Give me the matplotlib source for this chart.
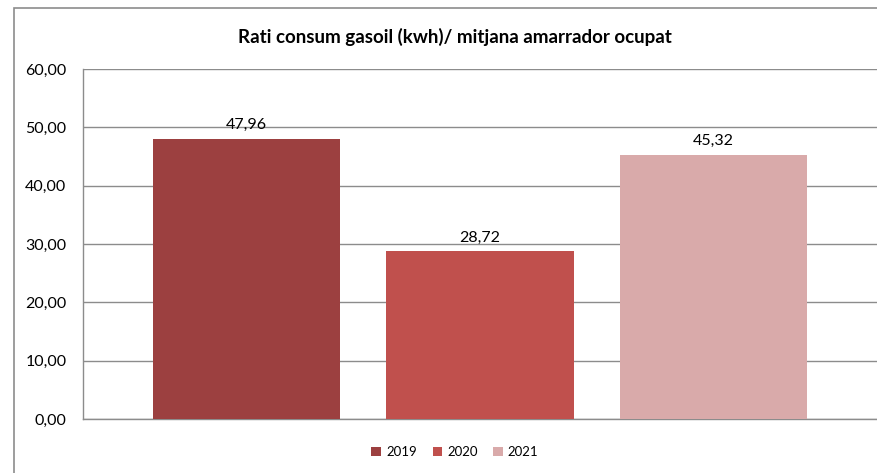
import matplotlib.pyplot as plt
from matplotlib.patches import Rectangle

years = ['2019', '2020', '2021']
values = [47.96, 28.72, 45.32]
colors = ['#9C4040', '#C0504D', '#D9AAAA']
yticks = [0, 10, 20, 30, 40, 50, 60]

plt.rcParams['font.family'] = ['Lato', 'DejaVu Sans']

fig = plt.figure(figsize=(8.77, 4.73), dpi=100)
# chart frame (right and bottom are cut off in the original)
fig.add_artist(Rectangle((14 / 877, -0.1), 1.0, 1 - 8 / 473 + 0.1,
                         transform=fig.transFigure, fill=False,
                         edgecolor='#8C8C8C', linewidth=1.2))

ax = fig.add_axes([83 / 877, 1 - 419 / 473, 1 - 83 / 877, (419 - 69) / 473])
x = range(len(years))
bars = ax.bar(x, values, width=188 / 234, color=colors, label=years, zorder=3)
for b, v in zip(bars, values):
    ax.text(b.get_x() + b.get_width() / 2, v + 1.2, f'{v:.2f}'.replace('.', ','),
            ha='center', va='bottom', fontsize=11.5)

ax.set_xlim(-0.7, 2.7)
ax.set_ylim(0, 60)
ax.set_yticks(yticks)
ax.set_yticklabels([f'{t:.2f}'.replace('.', ',') for t in yticks], fontsize=11.5)
ax.set_xticks([])
ax.tick_params(axis='y', length=0, pad=12)
ax.grid(axis='y', color='#8C8C8C', linewidth=1.0, zorder=0)
for s in ['top', 'right']:
    ax.spines[s].set_visible(False)
for s in ['left', 'bottom']:
    ax.spines[s].set_color('#8C8C8C')
    ax.spines[s].set_linewidth(1.0)

fig.text(455 / 877, 1 - 37 / 473, 'Rati consum gasoil (kwh)/ mitjana amarrador ocupat',
         ha='center', va='center', fontsize=13.5, fontweight='bold')

fig.legend(handles=list(bars), labels=years, loc='center', bbox_to_anchor=(455 / 877, 1 - 452 / 473),
           ncol=3, frameon=False, fontsize=9.5, handlelength=0.7, handleheight=0.7,
           handletextpad=0.4, columnspacing=1.2)

fig.savefig('out.png', dpi=100)
